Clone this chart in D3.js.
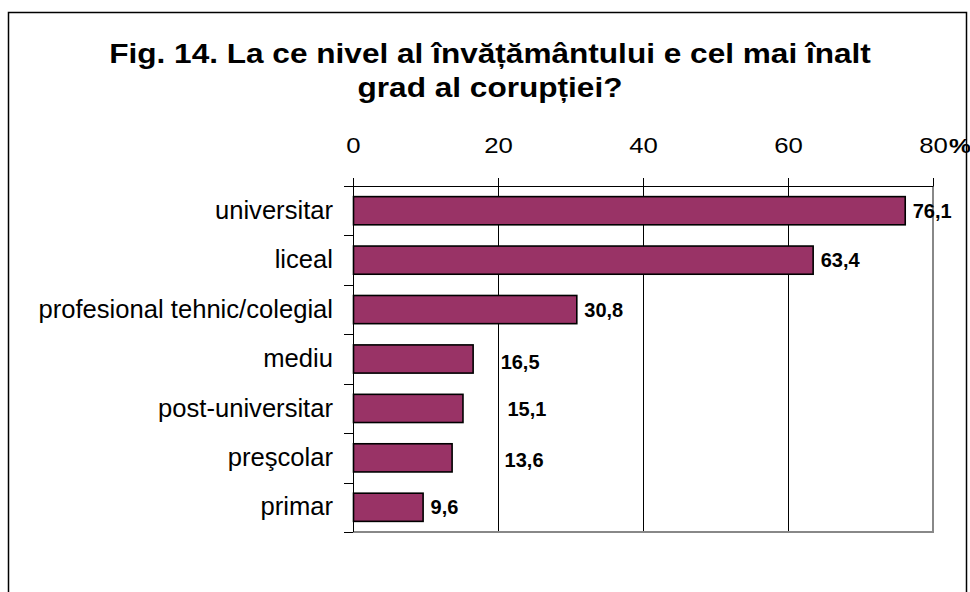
<!DOCTYPE html>
<html>
<head>
<meta charset="utf-8">
<script src="https://cdn.jsdelivr.net/npm/d3@7"></script>
<style>
  body { margin: 0; background: #fff; }
  text { font-family: Arial, "Liberation Sans", sans-serif; fill: #000; }
  .title { font-size: 27px; font-weight: bold; }
  .tick text { font-size: 22px; }
  .cat text { font-size: 25.6px; }
  .val { font-size: 20px; font-weight: bold; }
</style>
</head>
<body>
<div id="chart"></div>
<script>
// data
var categories = ['universitar', 'liceal', 'profesional tehnic/colegial', 'mediu',
                  'post-universitar', 'preşcolar', 'primar'];
var values = [76.1, 63.4, 30.8, 16.5, 15.1, 13.6, 9.6];
var valueLabels = ['76,1', '63,4', '30,8', '16,5', '15,1', '13,6', '9,6'];
var xTicks = [0, 20, 40, 60, 80];
var titleLines = ['Fig. 14. La ce nivel al învățământului e cel mai înalt',
                  'grad al corupției?'];

// layout (note: "top" is taken by window.top, so prefixed names)
var width = 970, height = 592;
var plotL = 353, plotR = 933, plotT = 186, plotB = 532;
var stretch = 1.17;              // the picture is wider than tall
var labelNudgeX = [0, 0, 0, 20, 37, 45, 0];  // labels moved by hand in the original
var labelNudgeY = [0, 0, 0, 3, 1, 2, 0];

var svg = d3.select('#chart').append('svg')
  .attr('width', width)
  .attr('height', height);

svg.append('rect')
  .attr('x', 8.5).attr('y', 12.5)
  .attr('width', 958).attr('height', 620)
  .attr('fill', '#fff')
  .attr('stroke', '#000')
  .attr('stroke-width', 1.5);

// title
svg.selectAll('.title')
  .data(titleLines)
  .enter()
  .append('text')
  .attr('class', 'title')
  .attr('text-anchor', 'middle')
  .attr('transform', function(d, i) {
    return 'translate(490,' + (63 + i * 34) + ') scale(' + stretch + ',1)';
  })
  .text(function(d) { return d; });

var x = d3.scaleLinear().domain([0, 80]).range([plotL, plotR]);
var y = d3.scaleBand().domain(categories).range([plotT, plotB])
  .paddingInner(0.43).paddingOuter(0.215);

// grid
svg.selectAll('.grid')
  .data(xTicks.slice(1, -1))
  .enter()
  .append('line')
  .attr('x1', function(d) { return x(d) + 0.5; })
  .attr('x2', function(d) { return x(d) + 0.5; })
  .attr('y1', plotT).attr('y2', plotB)
  .attr('stroke', '#000')
  .attr('stroke-width', 1);

// plot border (right and bottom, grey)
svg.append('path')
  .attr('d', 'M' + x(80) + ',' + plotT + 'V' + plotB + 'H' + plotL)
  .attr('fill', 'none')
  .attr('stroke', '#888')
  .attr('stroke-width', 2);

// bars
svg.selectAll('.bar')
  .data(values)
  .enter()
  .append('rect')
  .attr('class', 'bar')
  .attr('x', x(0) + 0.5)
  .attr('y', function(d, i) { return y(categories[i]); })
  .attr('width', function(d) { return x(d) - x(0); })
  .attr('height', y.bandwidth())
  .attr('fill', '#993366')
  .attr('stroke', '#000')
  .attr('stroke-width', 1.6);

// top axis
var xAxis = svg.append('g')
  .attr('transform', 'translate(0,' + plotT + ')')
  .call(d3.axisTop(x).tickValues(xTicks).tickSize(8).tickPadding(25).tickSizeOuter(0));
xAxis.select('.domain').attr('stroke', '#000');
xAxis.selectAll('.tick line').attr('stroke', '#000');
xAxis.selectAll('.tick text')
  .attr('transform', 'scale(' + stretch + ',1)');

// % after the last tick
svg.append('text')
  .attr('font-size', '21px')
  .attr('font-weight', 'bold')
  .attr('transform', 'translate(' + (x(80) + 16) + ',' + (plotT - 33) + ') scale(' + stretch + ',1)')
  .text('%');

// left axis: line, ticks between categories, labels
var yAxis = svg.append('g')
  .attr('class', 'cat')
  .attr('transform', 'translate(' + plotL + ',0)')
  .call(d3.axisLeft(y).tickSize(0).tickPadding(20));
yAxis.select('.domain').remove();

yAxis.append('line')
  .attr('x1', 0.5).attr('x2', 0.5)
  .attr('y1', plotT).attr('y2', plotB)
  .attr('stroke', '#000');

var boundaries = categories.map(function(c) { return y(c) - y.step() * y.paddingInner() / 2; });
boundaries.push(plotB);
yAxis.selectAll('.sep')
  .data(boundaries)
  .enter()
  .append('line')
  .attr('x1', -9).attr('x2', 0)
  .attr('y1', function(d) { return Math.round(d) + 0.5; })
  .attr('y2', function(d) { return Math.round(d) + 0.5; })
  .attr('stroke', '#000');

// value labels
svg.selectAll('.val')
  .data(values)
  .enter()
  .append('text')
  .attr('class', 'val')
  .attr('x', function(d, i) { return x(d) + 8 + labelNudgeX[i]; })
  .attr('y', function(d, i) { return y(categories[i]) + y.bandwidth() / 2 + labelNudgeY[i]; })
  .attr('dy', '0.35em')
  .text(function(d, i) { return valueLabels[i]; });
</script>
</body>
</html>
